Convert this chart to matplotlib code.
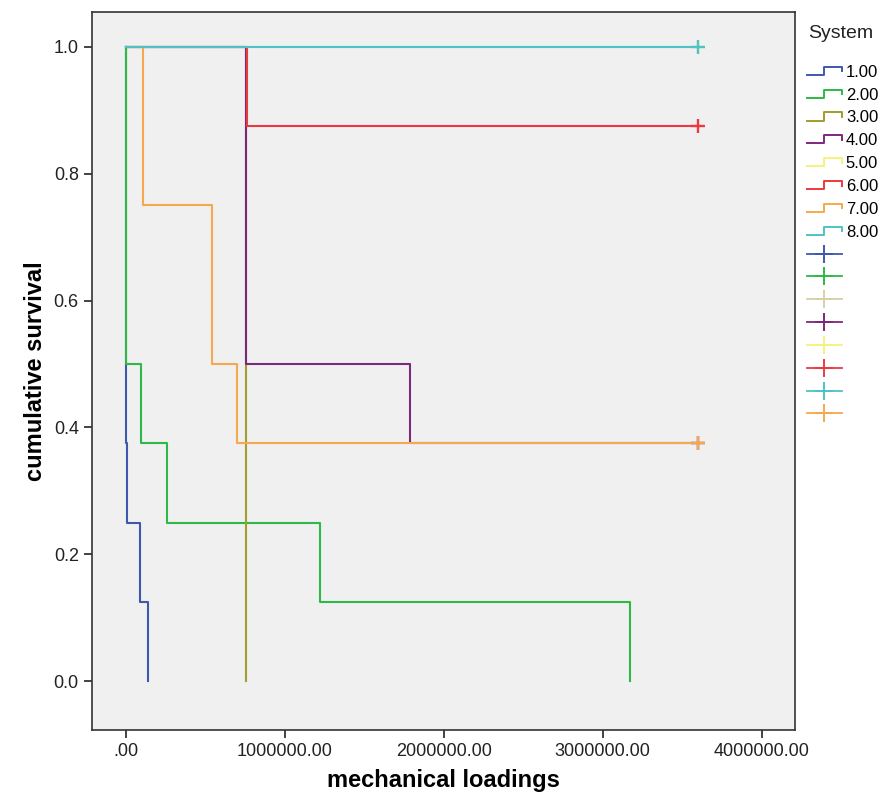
import numpy as np
import matplotlib
matplotlib.use("Agg")
import matplotlib.pyplot as plt
from matplotlib.lines import Line2D
from matplotlib.legend_handler import HandlerBase

plt.rcParams['font.family'] = ['Liberation Sans', 'DejaVu Sans']

# Kaplan-Meier steps: event times and survival after each event
systems = ['1.00', '2.00', '3.00', '4.00', '5.00', '6.00', '7.00', '8.00']
event_times = [
    [1000, 3000, 6000, 88000, 140000],
    [2000, 94000, 260000, 1220000, 3170000],
    [755000],
    [758000, 1790000],
    [],
    [762000],
    [109000, 541000, 700000],
    [],
]
survival = [
    [0.5, 0.375, 0.25, 0.125, 0.0],
    [0.5, 0.375, 0.25, 0.125, 0.0],
    [0.0],
    [0.5, 0.375],
    [],
    [0.875],
    [0.75, 0.5, 0.375],
    [],
]
# censored observations (None = no censoring)
censor_time = [None, None, None, 3600000, 3600000, 3600000, 3600000, 3600000]

line_colors = ['#3E58AC', '#2EB848', '#A09E2C', '#7C287D', '#F5F27A', '#EB3A3F', '#F6A84E', '#4CC3C6']
censor_colors = ['#3E58AC', '#2EB848', '#D6D0A6', '#7C287D', '#F5F27A', '#EB3A3F', '#4CC3C6', '#F6A84E']


class StepHandler(HandlerBase):
    # legend handle drawn as a little step, like SPSS does
    def create_artists(self, legend, orig_handle, xdescent, ydescent,
                       width, height, fontsize, trans):
        xs = np.array([0, 0.5, 0.5, 1.0, 1.0]) * width - xdescent
        ys = np.array([0.15, 0.15, 0.85, 0.85, 0.45]) * height - ydescent
        ln = Line2D(xs, ys, color=orig_handle.get_color(), lw=1.4, transform=trans)
        return [ln]


fig = plt.figure(figsize=(8.86, 7.97), dpi=100)
ax = fig.add_axes([92 / 886, 1 - 730 / 797, 703 / 886, 718 / 797])
ax.set_facecolor('#F0F0F0')

step_handles = []
for i in range(len(systems)):
    x = [0] + event_times[i]
    y = [1.0] + survival[i]
    if censor_time[i] is not None:
        x.append(censor_time[i])
        y.append(y[-1])
    ln, = ax.step(x, y, where='post', color=line_colors[i], lw=1.5)
    step_handles.append(ln)

for i in range(len(systems)):
    if censor_time[i] is not None:
        s = survival[i][-1] if survival[i] else 1.0
        ax.plot([censor_time[i]], [s], '+', color=line_colors[i], ms=10, mew=1.7)

ax.set_xlim(-214000, 4210000)
ax.set_ylim(-0.077, 1.055)
xt = [0, 1000000, 2000000, 3000000, 4000000]
ax.set_xticks(xt)
ax.set_xticklabels([('%.2f' % v).lstrip('0') if v == 0 else '%.2f' % v for v in xt])
yt = [0.0, 0.2, 0.4, 0.6, 0.8, 1.0]
ax.set_yticks(yt)
ax.set_yticklabels(['%.1f' % v for v in yt])
ax.tick_params(direction='out', length=6, width=1.2, labelsize=13, colors='#222222')
for sp in ax.spines.values():
    sp.set_color('#333333')
    sp.set_linewidth(1.2)

ax.set_xlabel('mechanical loadings', fontsize=17, fontweight='bold', labelpad=6)
ax.set_ylabel('cumulative survival', fontsize=17, fontweight='bold', labelpad=5)

fig.text(808 / 886, 1 - 33 / 797, 'System', fontsize=14, va='center', ha='left', color='#222222')

censor_handles = [Line2D([], [], color=c, lw=1.3, marker='+', ms=13, mew=1.4) for c in censor_colors]
handles = step_handles + censor_handles
labels = systems + [''] * len(censor_handles)
handler_map = {h: StepHandler() for h in step_handles}
leg = fig.legend(handles, labels, loc='upper left', bbox_to_anchor=(800 / 886, 1 - 58 / 797),
                 frameon=False, fontsize=12,
                 handlelength=2.1, handletextpad=0.25, labelspacing=0.47,
                 borderaxespad=0, handler_map=handler_map)

fig.savefig('out.png', dpi=100, facecolor='white')
